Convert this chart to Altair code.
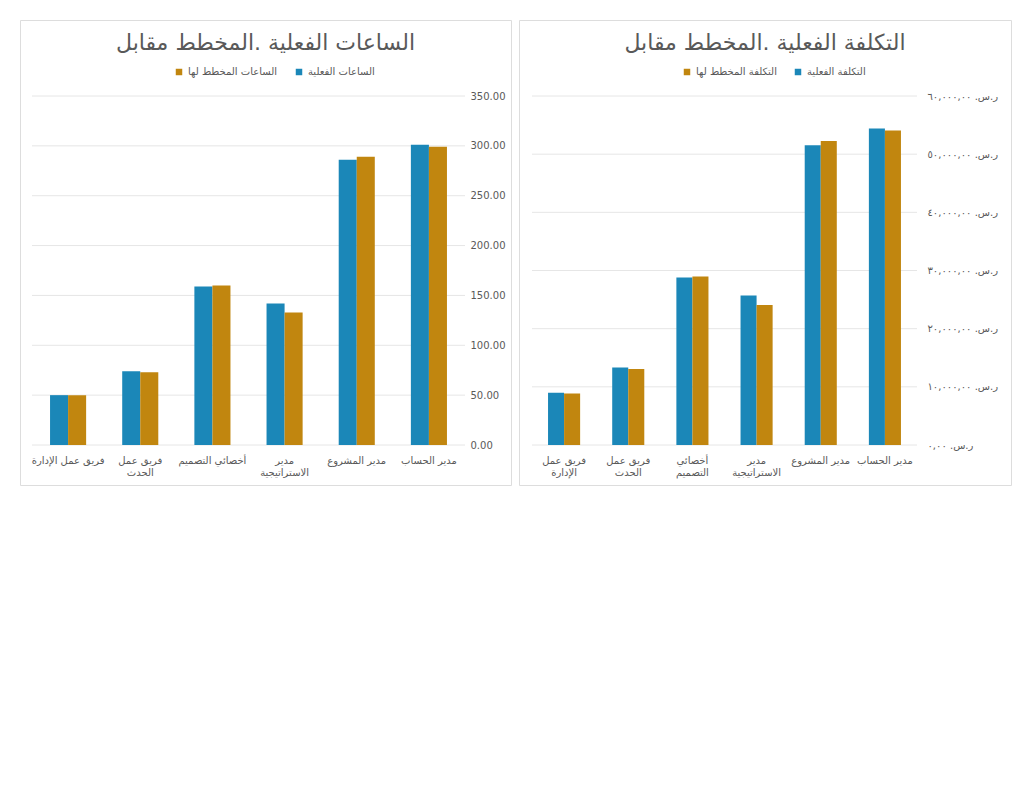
import json

import altair as alt
import pandas as pd

##### Data (left to right)

roles = ["فريق عمل الإدارة", "فريق عمل الحدث", "أخصائي التصميم",
         "مدير الاستراتيجية", "مدير المشروع", "مدير الحساب"]

# axis labels, "|" marks a line break
hours_labels = ["فريق عمل الإدارة", "فريق عمل|الحدث", "أخصائي التصميم",
                "مدير|الاستراتيجية", "مدير المشروع", "مدير الحساب"]
cost_labels = ["فريق عمل|الإدارة", "فريق عمل|الحدث", "أخصائي|التصميم",
               "مدير|الاستراتيجية", "مدير المشروع", "مدير الحساب"]

hours_actual = [50, 74, 159, 142, 286, 301]
hours_planned = [50, 73, 160, 133, 289, 299]

cost_actual = [8970, 13320, 28800, 25700, 51550, 54400]
cost_planned = [8850, 13050, 28950, 24050, 52250, 54050]

hours_title = "الساعات الفعلية .المخطط مقابل"
cost_title = "التكلفة الفعلية .المخطط مقابل"

hours_series = ["الساعات الفعلية", "الساعات المخطط لها"]
cost_series = ["التكلفة الفعلية", "التكلفة المخطط لها"]

hours_ticks = [0, 50, 100, 150, 200, 250, 300, 350]
hours_tick_labels = ["0.00", "50.00", "100.00", "150.00", "200.00",
                     "250.00", "300.00", "350.00"]

cost_ticks = [0, 10000, 20000, 30000, 40000, 50000, 60000]
cost_tick_labels = ["ر.س. ٠,٠٠", "ر.س. ١٠,٠٠٠,٠٠", "ر.س. ٢٠,٠٠٠,٠٠",
                    "ر.س. ٣٠,٠٠٠,٠٠", "ر.س. ٤٠,٠٠٠,٠٠", "ر.س. ٥٠,٠٠٠,٠٠",
                    "ر.س. ٦٠,٠٠٠,٠٠"]

BLUE = "#1B87B8"
GOLD = "#C1860F"
TEXT = "#595959"
GRID = "#e6e6e6"
FONT = "DejaVu Sans"
PANEL_H = 465


def long_table(labels, actual, planned, names):
    rows = []
    for role, label, a, p in zip(roles, labels, actual, planned):
        rows.append({"role": role, "label": label, "series": names[0], "value": a})
        rows.append({"role": role, "label": label, "series": names[1], "value": p})
    return pd.DataFrame(rows)


##### One bordered panel: the view itself is the panel, plot sits inside

def panel(df, labels, title, names, ticks, tick_labels, width,
          x_range, y_range, y_label_pad, legend_x):

    label_expr = (f"{json.dumps(tick_labels, ensure_ascii=False)}"
                  f"[indexof({json.dumps(ticks)}, datum.value)]")

    y_scale = alt.Scale(domain=[ticks[0], ticks[-1]], range=y_range, nice=False)

    y_axis = alt.Axis(
        orient="right",
        values=ticks,
        labelExpr=label_expr,
        grid=False,
        domain=False,
        ticks=False,
        offset=x_range[1] - width,
        labelPadding=y_label_pad,
        labelFontSize=10,
        labelColor=TEXT,
        labelFont=FONT,
    )

    grid = (
        alt.Chart(pd.DataFrame({"value": ticks}))
        .mark_rule(color=GRID, strokeWidth=1)
        .encode(
            y=alt.Y("value:Q", scale=y_scale, axis=y_axis, title=None),
            x=alt.value(x_range[0]),
            x2=alt.value(x_range[1]),
        )
    )

    heading = (
        alt.Chart(pd.DataFrame({"t": [title]}))
        .mark_text(font=FONT, fontSize=22, color=TEXT, align="center", baseline="middle")
        .encode(text="t:N", x=alt.value(width / 2), y=alt.value(23))
    )

    bars = (
        alt.Chart(df)
        .mark_bar()
        .encode(
            x=alt.X(
                "label:N",
                sort=labels,
                title=None,
                scale=alt.Scale(range=x_range, paddingInner=0.5, paddingOuter=0.25),
                axis=alt.Axis(
                    labelExpr="split(datum.label, '|')",
                    labelAngle=0,
                    labelOverlap=False,
                    domain=False,
                    ticks=False,
                    offset=y_range[0] - PANEL_H,
                    labelPadding=10,
                    labelFontSize=10,
                    labelLineHeight=12,
                    labelColor=TEXT,
                    labelFont=FONT,
                ),
            ),
            xOffset=alt.XOffset(
                "series:N",
                sort=names,
                scale=alt.Scale(paddingInner=0, paddingOuter=0),
            ),
            y=alt.Y("value:Q", scale=y_scale, title=None, axis=y_axis),
            color=alt.Color(
                "series:N",
                scale=alt.Scale(domain=[names[1], names[0]], range=[GOLD, BLUE]),
                legend=alt.Legend(
                    title=None,
                    orient="none",
                    legendX=legend_x,
                    legendY=47,
                    direction="horizontal",
                    symbolType="square",
                    symbolSize=42,
                    symbolStrokeWidth=0,
                    columnPadding=16,
                    labelFontSize=10,
                    labelColor=TEXT,
                    labelFont=FONT,
                ),
            ),
            tooltip=["role:N", "series:N", "value:Q"],
        )
    )

    return (grid + bars + heading).properties(width=width, height=PANEL_H)


hours_df = long_table(hours_labels, hours_actual, hours_planned, hours_series)
cost_df = long_table(cost_labels, cost_actual, cost_planned, cost_series)

left = panel(hours_df, hours_labels, hours_title, hours_series, hours_ticks,
             hours_tick_labels, 491, [12, 445], [425, 76], 5, 154)
right = panel(cost_df, cost_labels, cost_title, cost_series, cost_ticks,
              cost_tick_labels, 492, [13, 398], [425, 76], 10, 163)

chart = (
    alt.hconcat(left, right, spacing=6)
    .resolve_scale(color="independent", x="independent", y="independent", xOffset="independent")
    .resolve_legend(color="independent")
    .properties(padding={"left": 11, "top": 11, "right": 0, "bottom": 0})
    .configure_view(stroke="#dcdcdc", strokeWidth=1)
    .configure(background="white")
)

chart.save("out.html", embed_options={"renderer": "svg", "actions": False})
